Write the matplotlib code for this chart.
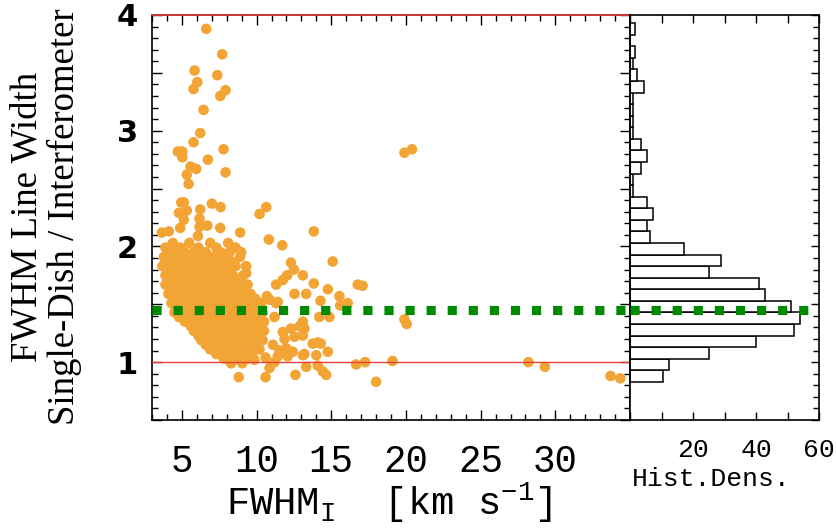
import matplotlib
matplotlib.use('Agg')
import matplotlib.pyplot as plt
from matplotlib.ticker import MultipleLocator, FuncFormatter

plt.rcParams['mathtext.fontset'] = 'custom'
plt.rcParams['mathtext.rm'] = 'Liberation Mono'
plt.rcParams['mathtext.it'] = 'Liberation Mono'

# dense cloud of sources
cloud_x = [4.4, 5.5, 6.9, 8.1,
           3.9, 4.9, 6.1, 7.3, 8.6,
           4.3, 5.2, 5.8, 6.6, 7.6, 8.2,
           3.8, 4.6, 5.4, 6.2, 7.0, 7.9, 8.9,
           4.1, 4.9, 5.7, 6.5, 7.3, 8.3,
           3.7, 4.5, 5.2, 6.0, 6.9, 7.7, 8.6, 9.3,
           4.2, 4.9, 5.6, 6.4, 7.2, 8.1,
           3.9, 4.6, 5.3, 6.0, 6.8, 7.6, 8.4, 9.1,
           4.3, 5.0, 5.7, 6.5, 7.3, 8.0, 8.8,
           3.9, 4.7, 5.4, 6.1, 6.9, 7.7, 8.5, 9.4,
           4.4, 5.1, 5.8, 6.6, 7.4, 8.2, 9.0,
           4.1, 4.8, 5.5, 6.3, 7.0, 7.8, 8.6, 9.6,
           4.5, 5.2, 5.9, 6.7, 7.5, 8.3, 9.2, 9.9,
           4.3, 5.0, 5.6, 6.4, 7.2, 8.0, 8.8, 9.6, 10.3,
           4.6, 5.3, 6.0, 6.8, 7.6, 8.4, 9.2, 10.0,
           4.5, 5.1, 5.8, 6.5, 7.3, 8.1, 8.9, 9.7, 10.4,
           4.8, 5.5, 6.2, 7.0, 7.8, 8.6, 9.4, 10.1,
           5.2, 5.9, 6.6, 7.4, 8.2, 9.0, 9.8, 10.5,
           5.6, 6.3, 7.0, 7.8, 8.6, 9.4, 10.2,
           5.8, 6.6, 7.3, 8.1, 8.9, 9.7, 10.5,
           6.1, 6.9, 7.7, 8.5, 9.3, 10.1,
           6.3, 7.1, 7.9, 8.7, 9.5, 10.4,
           6.6, 7.4, 8.2, 9.0, 9.8,
           6.9, 7.7, 8.5, 9.3, 10.2,
           7.3, 8.1, 8.9, 9.7,
           7.8, 8.6, 9.4,
           8.3]
cloud_y = [2.03, 2.03, 2.03, 2.03,
           1.99, 1.99, 1.99, 1.99, 1.99,
           1.95, 1.95, 1.95, 1.95, 1.95, 1.95,
           1.91, 1.91, 1.91, 1.91, 1.91, 1.91, 1.91,
           1.87, 1.87, 1.87, 1.87, 1.87, 1.87,
           1.83, 1.83, 1.83, 1.83, 1.83, 1.83, 1.83, 1.83,
           1.79, 1.79, 1.79, 1.79, 1.79, 1.79,
           1.75, 1.75, 1.75, 1.75, 1.75, 1.75, 1.75, 1.75,
           1.71, 1.71, 1.71, 1.71, 1.71, 1.71, 1.71,
           1.67, 1.67, 1.67, 1.67, 1.67, 1.67, 1.67, 1.67,
           1.63, 1.63, 1.63, 1.63, 1.63, 1.63, 1.63,
           1.59, 1.59, 1.59, 1.59, 1.59, 1.59, 1.59, 1.59,
           1.55, 1.55, 1.55, 1.55, 1.55, 1.55, 1.55, 1.55,
           1.51, 1.51, 1.51, 1.51, 1.51, 1.51, 1.51, 1.51, 1.51,
           1.47, 1.47, 1.47, 1.47, 1.47, 1.47, 1.47, 1.47,
           1.43, 1.43, 1.43, 1.43, 1.43, 1.43, 1.43, 1.43, 1.43,
           1.39, 1.39, 1.39, 1.39, 1.39, 1.39, 1.39, 1.39,
           1.35, 1.35, 1.35, 1.35, 1.35, 1.35, 1.35, 1.35,
           1.31, 1.31, 1.31, 1.31, 1.31, 1.31, 1.31,
           1.27, 1.27, 1.27, 1.27, 1.27, 1.27, 1.27,
           1.23, 1.23, 1.23, 1.23, 1.23, 1.23,
           1.19, 1.19, 1.19, 1.19, 1.19, 1.19,
           1.15, 1.15, 1.15, 1.15, 1.15,
           1.11, 1.11, 1.11, 1.11, 1.11,
           1.07, 1.07, 1.07, 1.07,
           1.03, 1.03, 1.03,
           0.99]

# scattered sources outside the cloud
sparse_x = [6.63, 7.70, 5.85, 7.37, 6.03, 5.78, 7.92, 7.57, 6.45, 6.23,
            5.78, 7.79, 4.73, 5.03, 5.03, 6.74, 5.58, 5.96, 7.92, 5.33,
            5.45, 4.96, 5.13, 7.01, 6.23, 7.59, 4.80, 5.33, 10.65, 10.2,
            5.13, 6.18, 6.18, 6.70, 4.89, 7.57, 3.66, 4.13, 8.9, 6.07,
            10.82, 13.83, 11.72, 19.9, 20.4,
            8.97, 9.31, 15.1, 12.3, 12.5, 12.05, 13.1, 11.76, 11.31, 13.83,
            14.77, 16.77, 17.1, 12.54, 13.32, 15.55, 10.69, 10.87, 14.28, 11.3,
            16.1, 11.42, 15.6, 14.2, 14.88, 11.2, 13.1, 11.76, 12.3, 12.87,
            13.2, 11.87, 12.54, 13.1, 13.76, 14.3, 14.77, 11.1, 11.53, 11.98,
            12.42, 11.42, 12.09, 13.1, 14.0, 11.2, 13.32, 14.1, 14.43, 14.66,
            12.6, 16.67, 17.27, 18.0, 19.1, 8.81, 10.6, 9.04, 9.86, 10.6,
            10.87, 14.1, 13.2, 19.9, 20.05, 28.2, 29.3, 33.7, 34.35]
sparse_y = [3.88, 3.66, 3.52, 3.48, 3.42, 3.36, 3.35, 3.30, 3.18, 2.98,
            2.90, 2.84, 2.82, 2.82, 2.77, 2.75, 2.69, 2.67, 2.64, 2.62,
            2.54, 2.38, 2.38, 2.37, 2.32, 2.34, 2.29, 2.31, 2.34, 2.28,
            2.23, 2.24, 2.17, 2.18, 2.16, 2.16, 2.12, 2.13, 2.12, 2.09,
            2.06, 2.13, 2.01, 2.81, 2.84,
            1.95, 1.77, 1.87, 1.86, 1.80, 1.75, 1.75, 1.71, 1.67, 1.68,
            1.63, 1.67, 1.66, 1.59, 1.59, 1.57, 1.57, 1.54, 1.53, 1.51,
            1.51, 1.52, 1.49, 1.39, 1.39, 1.39, 1.35, 1.26, 1.29, 1.31,
            1.29, 1.20, 1.22, 1.23, 1.16, 1.16, 1.09, 1.15, 1.10, 1.12,
            1.09, 1.05, 1.05, 1.06, 1.06, 1.00, 0.96, 0.97, 0.92, 0.89,
            0.89, 0.98, 1.00, 0.83, 1.01, 0.87, 0.87, 0.99, 1.02, 1.04,
            0.95, 1.17, 1.07, 1.37, 1.33, 1.00, 0.96, 0.88, 0.86]

# histogram of the ratio (bin bottoms, width 0.1)
hist_bins = [0.83, 0.93, 1.03, 1.13, 1.23, 1.33, 1.43, 1.53, 1.63, 1.73,
             1.83, 1.93, 2.03, 2.13, 2.23, 2.33, 2.43, 2.53, 2.63, 2.73,
             2.83, 2.93, 3.03, 3.13, 3.23, 3.33, 3.43, 3.53, 3.63, 3.73, 3.83]
hist_dens = [10.4, 12.4, 25, 40, 52, 54, 51, 43, 41, 25,
             29, 17, 6.5, 5.3, 7.2, 5.3, 1, 1, 3.4, 5.4,
             3.4, 1, 1, 1, 1, 4.4, 2.3, 1, 1.6, 0, 1.6]

median_ratio = 1.45

W, H = 836, 529
fig = plt.figure(figsize=(W / 100, H / 100), dpi=100)
ax = fig.add_axes([152 / W, 1 - 420 / H, (630 - 152) / W, (420 - 15) / H])
axh = fig.add_axes([630 / W, 1 - 420 / H, (819 - 630) / W, (420 - 15) / H], sharey=ax)

orange = '#f2a535'
ax.scatter(cloud_x, cloud_y, s=58, color=orange, edgecolors='none', zorder=2)
ax.scatter(sparse_x, sparse_y, s=58, color=orange, edgecolors='none', zorder=2)
ax.axhline(1.0, color='#e8413c', lw=1.0, zorder=3)
ax.axhline(4.0, color='#e8413c', lw=1.2, zorder=5, clip_on=False)
for a in (ax, axh):
    a.axhline(median_ratio, color='#008a00', lw=6.6, ls=(0, (1, 1.3)),
              dash_capstyle='butt', zorder=4)

axh.barh(hist_bins, hist_dens, height=0.1, align='edge', left=0,
         facecolor='white', edgecolor='black', lw=1.1, zorder=2)

ax.set_xlim(3, 35)
ax.set_ylim(0.5, 4.0)
axh.set_xlim(0, 60)

for a in (ax, axh):
    for sp in a.spines.values():
        sp.set_linewidth(1.2)

ax.xaxis.set_major_locator(MultipleLocator(5))
ax.xaxis.set_minor_locator(MultipleLocator(1))
ax.yaxis.set_major_locator(MultipleLocator(0.5))
ax.yaxis.set_minor_locator(MultipleLocator(0.1))
ax.xaxis.set_major_formatter(FuncFormatter(lambda v, p: '%d' % v if 5 <= v <= 30 else ''))
ax.yaxis.set_major_formatter(FuncFormatter(lambda v, p: '%d' % v if abs(v - round(v)) < 1e-6 and v >= 1 else ''))
ax.tick_params(which='both', direction='in', top=True, right=True, color='black')
ax.tick_params(which='major', length=7, width=1.0)
ax.tick_params(which='minor', length=4, width=1.0)
ax.tick_params(axis='x', pad=17)
ax.tick_params(axis='y', pad=10)
for t in ax.get_xticklabels():
    t.set_fontfamily('Liberation Mono')
    t.set_fontsize(27)
for t in ax.get_yticklabels():
    t.set_fontfamily('DejaVu Sans')
    t.set_fontweight('bold')
    t.set_fontsize(22)

axh.set_xticks([0, 10, 20, 30, 40, 50, 60])
axh.set_xticklabels(['', '', '20', '', '40', '', '60'], fontfamily='Liberation Mono', fontsize=19)
axh.tick_params(which='both', direction='in', top=True, left=False, right=True,
                labelleft=False, color='black')
axh.tick_params(which='major', length=6, width=1.0)
axh.tick_params(which='minor', length=4, width=1.0)
axh.tick_params(axis='x', pad=13)

fig.text(389 / W, 1 - 503 / H, r'FWHM$_\mathregular{I}$  [km s$^{\mathregular{-1}}$]',
         ha='center', va='center', fontfamily='Liberation Mono', fontsize=28)
fig.text(632 / W, 1 - 479 / H, 'Hist.Dens.', ha='left', va='center',
         fontfamily='Liberation Mono', fontsize=19)
fig.text(46 / W, 1 - 217 / H, 'FWHM Line Width\nSingle-Dish / Interferometer',
         rotation=90, ha='center', va='center', ma='center',
         fontfamily='Liberation Serif', fontsize=26.5, linespacing=1.12)

fig.savefig('out.png', dpi=100)
